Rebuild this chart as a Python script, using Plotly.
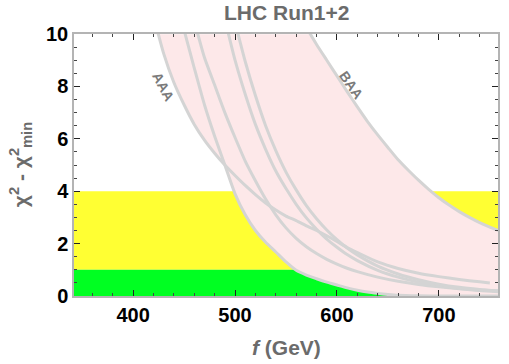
import numpy as np
import plotly.graph_objects as go

# chi^2 - chi^2_min against f (GeV)
f_aaa = [420, 430, 440, 450, 460, 470, 480, 490, 500, 510, 520, 530, 540, 550, 560,
         570, 580, 590, 600, 610, 620, 640, 660, 680, 700, 720, 740, 750]
chi_aaa = [10.7, 9.25, 8.15, 7.3, 6.55, 5.95, 5.45, 5.0, 4.6, 4.22, 3.87, 3.55, 3.28, 3.05, 2.88,
           2.68, 2.5, 2.3, 2.08, 1.85, 1.66, 1.3, 1.05, 0.87, 0.74, 0.63, 0.54, 0.5]

f_c2 = [450, 460, 470, 480, 490, 500, 510, 520, 530, 540, 550, 560, 570, 580, 590,
        600, 610, 620, 630, 640, 650, 660, 680, 700, 760]
chi_c2 = [10.15, 8.7, 7.3, 6.1, 5.0, 3.9, 3.1, 2.5, 2.05, 1.68, 1.3, 0.98, 0.8, 0.66, 0.53,
          0.42, 0.31, 0.22, 0.15, 0.1, 0.06, 0.03, 0.01, 0.0, 0.0]

f_c3 = [460, 470, 480, 490, 500, 510, 520, 530, 540, 550, 560, 570, 580, 590, 600,
        610, 620, 640, 660, 680, 700, 720, 740, 760]
chi_c3 = [10.5, 9.1, 8.05, 7.0, 6.05, 5.15, 4.4, 3.7, 3.1, 2.6, 2.2, 1.88, 1.62, 1.4, 1.22,
          1.06, 0.93, 0.72, 0.56, 0.44, 0.35, 0.28, 0.23, 0.19]

f_c4 = [490, 500, 510, 520, 530, 540, 550, 560, 570, 580, 590, 600, 610, 620, 640,
        660, 680, 700, 720, 740, 760]
chi_c4 = [10.57, 9.0, 7.7, 6.55, 5.6, 4.77, 4.1, 3.5, 2.98, 2.55, 2.17, 1.86, 1.58, 1.35, 0.98,
          0.72, 0.53, 0.39, 0.29, 0.21, 0.16]

f_c5 = [500, 510, 520, 530, 540, 550, 560, 570, 580, 590, 600, 610, 620, 640, 660,
        680, 700, 720, 740, 760]
chi_c5 = [10.45, 8.95, 7.65, 6.5, 5.55, 4.73, 4.05, 3.45, 2.95, 2.52, 2.15, 1.83, 1.57, 1.14, 0.84,
          0.62, 0.45, 0.33, 0.25, 0.19]

f_baa = [570, 580, 590, 600, 610, 620, 630, 640, 650, 660, 670, 680, 690, 700, 710,
         720, 730, 740, 750, 760]
chi_baa = [10.25, 9.6, 9.0, 8.4, 7.8, 7.22, 6.66, 6.15, 5.67, 5.2, 4.8, 4.42, 4.07, 3.75, 3.47,
           3.22, 3.0, 2.8, 2.63, 2.48]

curves = [(f_aaa, chi_aaa), (f_c2, chi_c2), (f_c3, chi_c3),
          (f_c4, chi_c4), (f_c5, chi_c5), (f_baa, chi_baa)]

x_range = [342, 758]
y_max = 10

# band spanned by all the curves
grid = np.linspace(f_aaa[0], x_range[1], 600)
stack = np.array([np.interp(grid, fx, cy, left=np.inf, right=np.nan) for fx, cy in curves])
lower = np.minimum(np.nanmin(stack, axis=0), y_max)
upper = np.minimum(np.nanmax(stack, axis=0), y_max)

fig = go.Figure()

# 1 sigma / 2 sigma bands
fig.add_shape(type="rect", xref="paper", x0=0, x1=1, y0=1, y1=4,
              fillcolor="#ffff33", line_width=0, layer="below")
fig.add_shape(type="rect", xref="paper", x0=0, x1=1, y0=0, y1=1,
              fillcolor="#00ff22", line_width=0, layer="below")

fig.add_trace(go.Scatter(
    x=np.concatenate([grid, grid[::-1]]),
    y=np.concatenate([upper, lower[::-1]]),
    fill="toself", fillcolor="#fde8e9", line_width=0, mode="lines",
    hoverinfo="skip", showlegend=False))

for fx, cy in curves:
    fig.add_trace(go.Scatter(x=fx, y=cy, mode="lines",
                             line=dict(color="#d4d4d4", width=3, shape="spline", smoothing=0.6),
                             showlegend=False))

grey = "#6b6b6b"
tick_font = dict(family="Liberation Sans, Arial", size=20, color="black", weight="bold")

fig.add_annotation(x=429, y=8.0, text="AAA", showarrow=False, textangle=62,
                   font=dict(family="Liberation Sans, Arial", size=14, color="#7a7a7a", weight="bold"))
fig.add_annotation(x=614, y=8.05, text="BAA", showarrow=False, textangle=55,
                   font=dict(family="Liberation Sans, Arial", size=14, color="#7a7a7a", weight="bold"))

fig.add_annotation(xref="paper", yref="paper", x=0.5, y=1.082, text="LHC Run1+2",
                   showarrow=False, yanchor="middle",
                   font=dict(family="Liberation Sans, Arial", size=21, color=grey, weight="bold"))
fig.add_annotation(xref="paper", yref="paper", x=0.5, y=-0.195, text="<i>f</i> (GeV)",
                   showarrow=False, yanchor="middle",
                   font=dict(family="Liberation Sans, Arial", size=21, color=grey, weight="bold"))
fig.add_annotation(xref="paper", yref="paper", x=-0.127, y=0.5, textangle=-90,
                   text="χ<sup>2</sup> - χ<sup>2</sup><sub>min</sub>",
                   showarrow=False, xanchor="center", yanchor="middle",
                   font=dict(family="Liberation Sans, Arial", size=21, color=grey, weight="bold"))

fig.update_xaxes(range=x_range, tickvals=[400, 500, 600, 700], ticks="inside", ticklen=6,
                 tickcolor="#222", mirror="allticks", showline=True, linecolor="#b4b4b4",
                 linewidth=1.5, showgrid=False, zeroline=False, tickfont=tick_font,
                 automargin=False,
                 minor=dict(ticks="inside", dtick=20, tick0=400, ticklen=3, tickcolor="#444"))
fig.update_yaxes(range=[0, y_max], dtick=2, ticks="inside", ticklen=6,
                 tickcolor="#222", mirror="allticks", showline=True, linecolor="#b4b4b4",
                 linewidth=1.5, showgrid=False, zeroline=False, tickfont=tick_font,
                 automargin=False,
                 minor=dict(ticks="inside", dtick=0.5, ticklen=3, tickcolor="#444"))

fig.update_layout(width=509, height=364, margin=dict(l=74, r=11, t=34, b=68),
                  plot_bgcolor="white", paper_bgcolor="white", showlegend=False)

# drop the page's default 8px body margin so the figure sits at the window corner
fig.write_html("out.html", config={"displayModeBar": False},
               post_script="document.body.style.margin='0';")
